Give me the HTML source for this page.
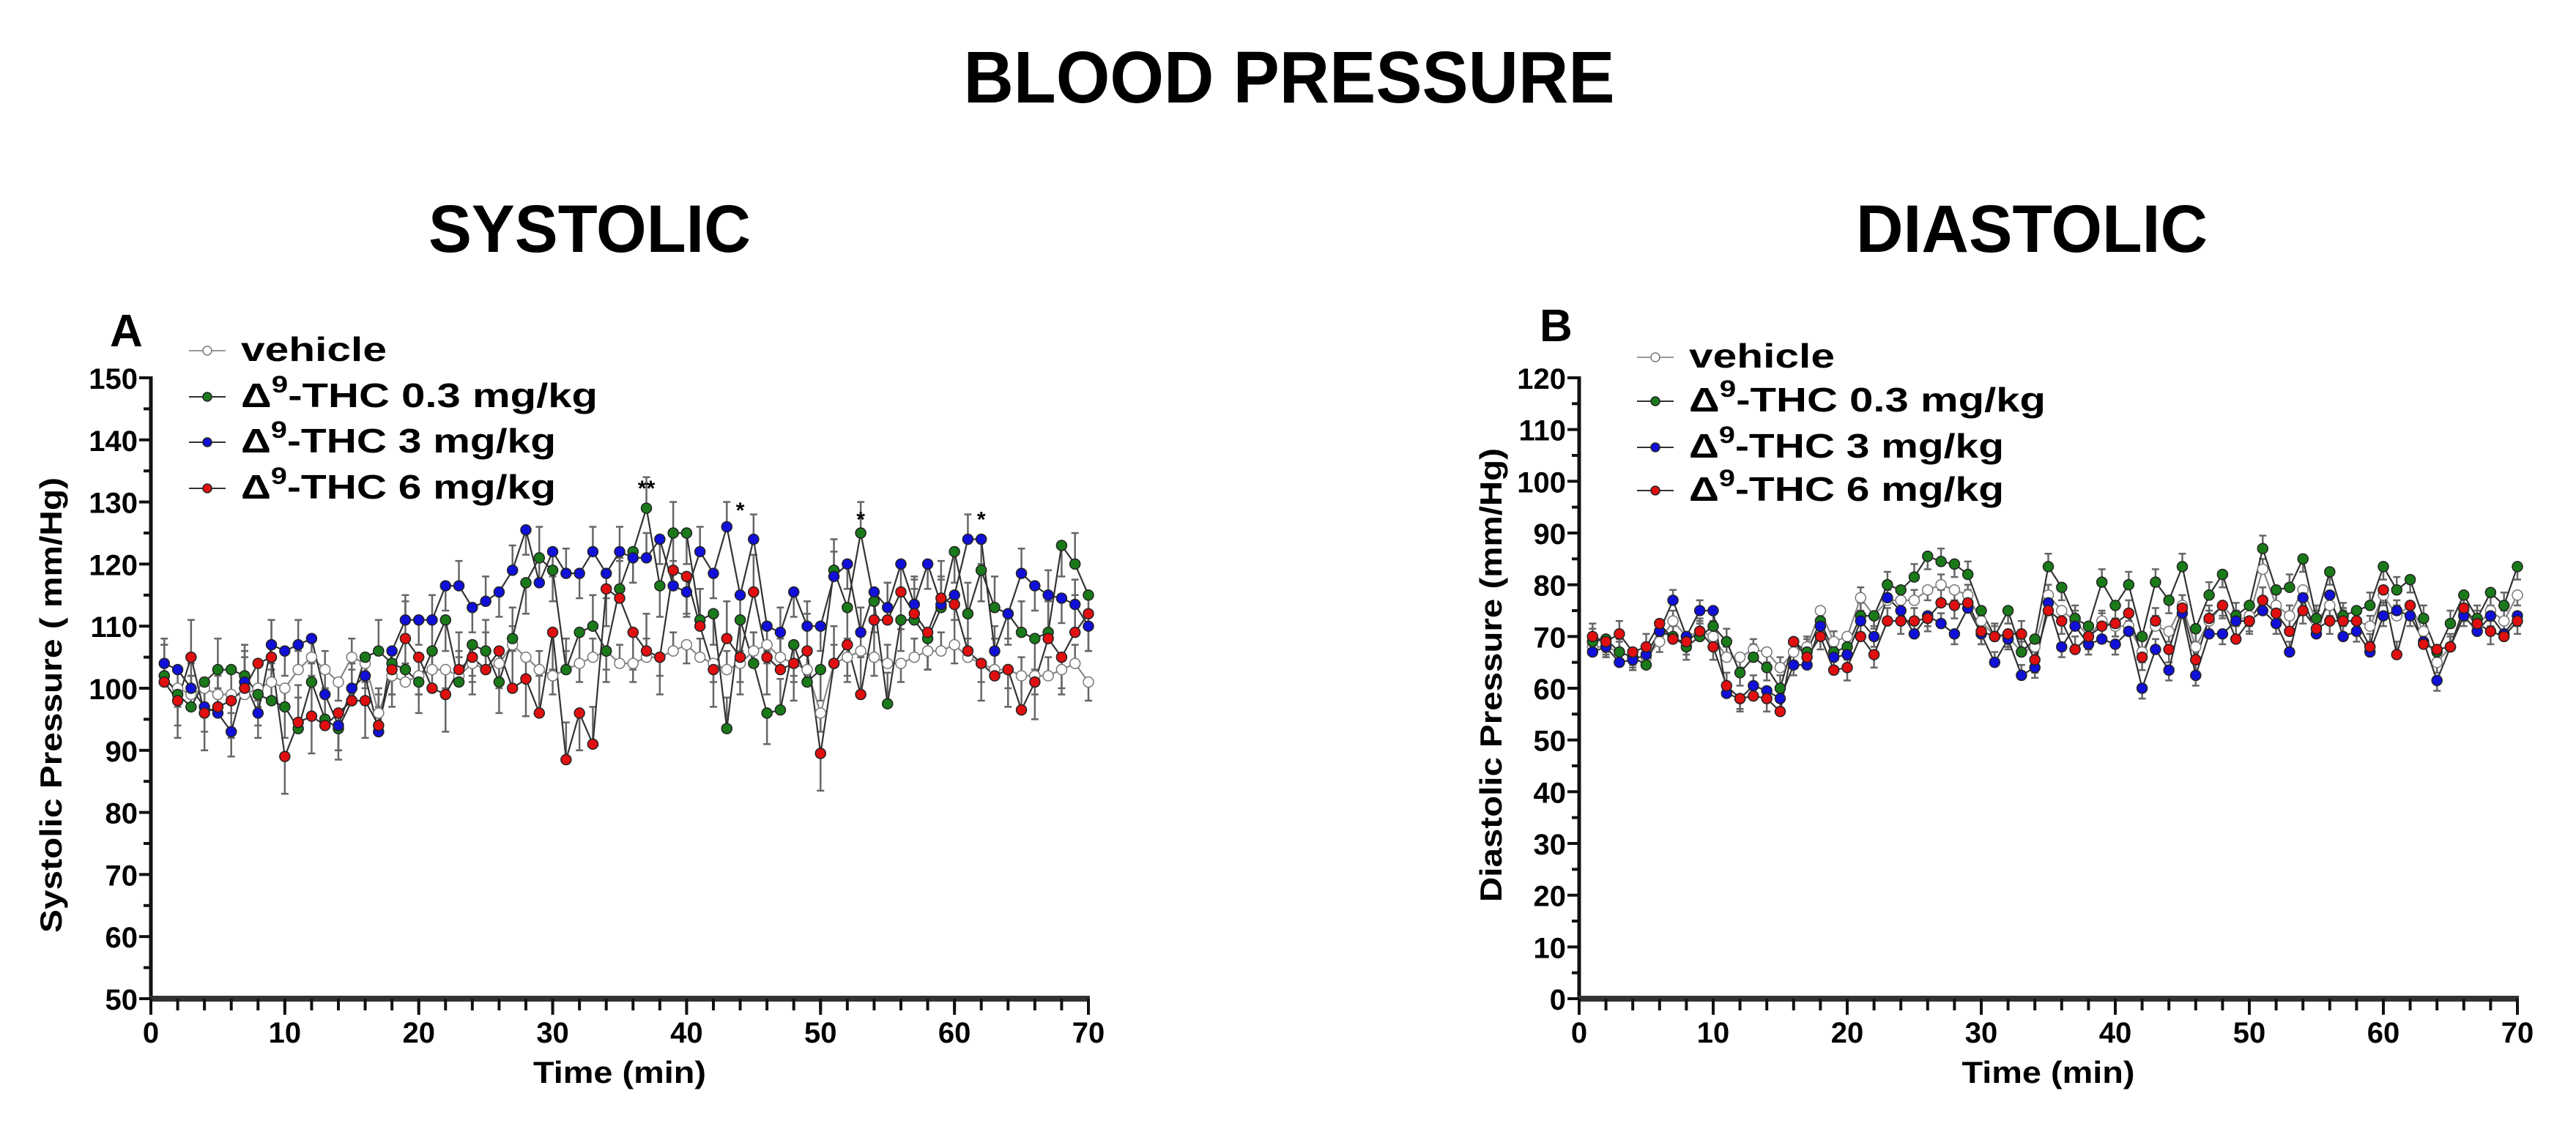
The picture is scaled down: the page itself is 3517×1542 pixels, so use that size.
<!DOCTYPE html>
<html><head><meta charset="utf-8"><title>Blood Pressure</title>
<style>
html,body{margin:0;padding:0;background:#fff;}
svg{display:block;font-family:"Liberation Sans",Arial,sans-serif;font-weight:bold;}
</style></head>
<body>
<svg id="fig" width="3517" height="1542" viewBox="0 0 3517 1542" xmlns="http://www.w3.org/2000/svg">
<text x="1760" y="140" font-size="100" text-anchor="middle" textLength="889" lengthAdjust="spacingAndGlyphs">BLOOD PRESSURE</text>
<text x="805" y="344" font-size="92" text-anchor="middle" textLength="440" lengthAdjust="spacingAndGlyphs">SYSTOLIC</text>
<text x="2774" y="344" font-size="92" text-anchor="middle" textLength="480" lengthAdjust="spacingAndGlyphs">DIASTOLIC</text>
<g id="chartA"></g>
<g id="chartB"></g>
</svg>
<script>
// ---- data ----
const minutes = [];
for (let i = 1; i <= 70; i++) minutes.push(i);
const seriesNames = ["vehicle", "Δ9-THC 0.3 mg/kg", "Δ9-THC 3 mg/kg", "Δ9-THC 6 mg/kg"];
const sysVehicle = [101,100,99,100,99,99,99,100,101,100,103,105,103,101,105,104,96,102,101,102,103,103,102,104,103,104,107,105,103,102,103,104,105,106,104,104,105,105,106,107,105,104,103,104,106,107,105,104,103,96,104,105,106,105,104,104,105,106,106,107,105,104,103,103,102,102,102,103,104,101];
const sysLow = [102,99,97,101,103,103,102,99,98,97,93.5,101,95,93.5,98,105,106,104,103,101,106,111,101,107,106,101,108,117,121,119,103,109,110,106,116,122,129,116.5,125,125,111,112,93.5,111,104,96,96.5,107,101,103,119,113,125,114,97.5,111,111,108,113,122,112,119,113,112,109,108,109,123,120,115];
const sysMid = [104,103,100,97,96,93,101,96,107,106,107,108,99,94,100,102,93,106,111,111,111,116.5,116.5,113,114,115.5,119,125.5,117,122,118.5,118.5,122,118.5,122,121,121,124,116.5,115.5,122,118.5,126,115,124,110,109,115.5,110,110,118,120,109,115.5,113,120,113.5,120,113.5,115,124,124,106,112,118.5,116.5,115,114.5,113.5,110];
const sysHigh = [101,98,105,96,97,98,100,104,105,89,94.5,95.5,94,96,98,98,94,103,108,105,100,99,103,105,103,106,100,101.5,96,109,88.5,96,91,116,114.5,109,106,105,119,118,110,103,108,105,115.5,105,103,104,106,89.5,104,107,99,111,111,115.5,112,109,114.5,113.5,106,104,102,103,96.5,101,108,105,109,112];
const sysErr = [3, 5, 4, 6];
const sysStars = [[37,"**",131],[44,"*",127.5],[53,"*",126],[62,"*",126]];
const diaVehicle = [68,68,67,66,66,69,73,70,71,70,66,66,67.5,67,64,67,68,75,69,70,77.5,74,77,77,77,79,80,79,78,73,70,70,67,68,78,75,73,70,73,72,72,67,72,71,76,68,73,76,73,74,83,76,74,79,73,76,73,73,72,78,74,76,71,65,68,75,72,75,73,78];
const diaLow = [69,69.5,67,66,64.5,71,70,68,70,72,69,63,66,64,60,69,67,73,67,68,74,74,80,79,81.5,85.5,84.5,84,82,75,70,75,67,69.5,83.5,79.5,73.5,72,80.5,76,80,70,80.5,77,83.5,71.5,78,82,74,76,87,79,79.5,85,73.5,82.5,74,75,76,83.5,79,81,73.5,67,72.5,78,73.5,78.5,76,83.5];
const diaMid = [67,68,65,65.5,66.5,71,77,70,75,75,59,58,60.5,59.5,58,64.5,64.5,72,66,66.5,73,70,77.5,75,70.5,74,72.5,70.5,75.5,70.5,65,69.5,62.5,64,76.5,68,72,68.5,69.5,68.5,71,60,67.5,63.5,74.5,62.5,70.5,70.5,73,73,75,72.5,67,77.5,70.5,78,70,71,67,74,75,74,69,61.5,68,74,71,74,70.5,74];
const diaHigh = [70,69,70.5,67,68,72.5,69.5,69,71,68,60.5,58,58.5,58,55.5,69,66,70,63.5,64,70,66.5,73,73,73,73.5,76.5,76,76.5,71,70,70.5,70.5,65.5,75,73,67.5,70,72,72.5,74.5,66,73,67.5,75.5,65.5,73.5,76,69.5,73,77,74.5,71,75,71.5,73,73,73,68,79,66.5,76,68.5,67.5,68,75.5,72.5,71,70,73];
const diaErr = [2, 2.5, 2, 2.5];
const sysYTicks = [50,60,70,80,90,100,110,120,130,140,150];
const diaYTicks = [0,10,20,30,40,50,60,70,80,90,100,110,120];
const xTicks = [0,10,20,30,40,50,60,70];

const NS = "http://www.w3.org/2000/svg";
const fills = ["#ffffff", "#1a7a1a", "#1010d8", "#e01010"];
function mk(parent, tag, attrs) {
  const e = document.createElementNS(NS, tag);
  for (const k in attrs) e.setAttribute(k, attrs[k]);
  parent.appendChild(e);
  return e;
}

function drawChart(gid, cfg) {
  const g = document.getElementById(gid);
  const X0 = cfg.x0, X1 = cfg.x1, Y0 = cfg.y0, Y1 = cfg.y1;
  const xs = v => X0 + (v - 0) / 70 * (X1 - X0);
  const ys = v => Y0 - (v - cfg.ymin) / (cfg.ymax - cfg.ymin) * (Y0 - Y1);

  // panel label
  const pl = mk(g, "text", {x: cfg.labelX, y: cfg.labelY, "font-size": 62});
  pl.textContent = cfg.label;
  
  

  // error bars
  const eg = mk(g, "g", {stroke: "#666", "stroke-width": 2.5});
  
  
  cfg.series.forEach((s, si) => {
    s.forEach((v, i) => {
      const x = xs(minutes[i]);
      const up = (i % 2 === 0);
      const ye = ys(v + (up ? cfg.err[si] : -cfg.err[si]));
      mk(eg, "line", {x1: x, x2: x, y1: ys(v), y2: ye});
      mk(eg, "line", {x1: x - 5, x2: x + 5, y1: ye, y2: ye});
    });
  });

  // lines and markers
  cfg.series.forEach((s, si) => {
    const pts = s.map((v, i) => xs(minutes[i]).toFixed(1) + "," + ys(v).toFixed(1)).join(" ");
    const pl2 = mk(g, "polyline", {points: pts, fill: "none", stroke: si === 0 ? "#888" : "#333", "stroke-width": 2.2});
    
    
  });
  cfg.series.forEach((s, si) => {
    s.forEach((v, i) => {
      const c = mk(g, "circle", {cx: xs(minutes[i]), cy: ys(v), r: 7, fill: fills[si], stroke: si === 0 ? "#777" : "#222", "stroke-width": 1.5});
      
      
    });
  });

  // stars
  (cfg.stars || []).forEach(st => {
    const t = mk(g, "text", {x: xs(st[0]), y: ys(st[2]), "font-size": 30, "text-anchor": "middle"});
    t.textContent = st[1];
    
    
  });

  // axes
  const ax = mk(g, "g", {stroke: "#111", "stroke-width": 5});
  
  
  mk(ax, "line", {x1: X0, x2: X0, y1: Y1 - 2, y2: Y0 + 2});
  mk(ax, "line", {x1: X0 - 2, x2: X1 + 2, y1: Y0, y2: Y0, stroke: "#333", "stroke-width": 8});
  // y ticks
  const yt = cfg.yticks;
  for (let k = 0; k < yt.length; k++) {
    const y = ys(yt[k]);
    mk(ax, "line", {x1: X0 - 16, x2: X0, y1: y, y2: y, "stroke-width": 4});
    const t = mk(g, "text", {x: X0 - 18, y: y + 15, "font-size": 40, "text-anchor": "end"});
    t.textContent = yt[k];
    
    
    if (k < yt.length - 1) {
      const ym = ys((yt[k] + yt[k + 1]) / 2);
      mk(ax, "line", {x1: X0 - 10, x2: X0, y1: ym, y2: ym, "stroke-width": 4});
    }
  }
  // x ticks
  for (let m = 0; m <= 70; m += 2) {
    const x = xs(m);
    mk(ax, "line", {x1: x, x2: x, y1: Y0, y2: Y0 + 16, "stroke-width": 4});
  }
  xTicks.forEach(v => {
    const x = xs(v);
    mk(ax, "line", {x1: x, x2: x, y1: Y0, y2: Y0 + 22, "stroke-width": 4});
    const t = mk(g, "text", {x: x, y: Y0 + 60, "font-size": 40, "text-anchor": "middle"});
    t.textContent = v;
    
    
  });
  const xt = mk(g, "text", {x: (X0 + X1) / 2, y: Y0 + 115, "font-size": 42, "text-anchor": "middle", textLength: 236, lengthAdjust: "spacingAndGlyphs"});
  xt.textContent = "Time (min)";
  
  
  const ytl = mk(g, "text", {x: 0, y: 0, "font-size": 42, "text-anchor": "middle", textLength: cfg.ylen, lengthAdjust: "spacingAndGlyphs", transform: "translate(" + cfg.ytx + "," + cfg.yty + ") rotate(-90)"});
  ytl.textContent = cfg.ytitle;
  
  

  // legend
  cfg.legendY.forEach((ly, si) => {
    const lg = mk(g, "g", {});
    
    
    mk(lg, "line", {x1: cfg.legendX - 25, x2: cfg.legendX + 25, y1: ly - 14, y2: ly - 14, stroke: si === 0 ? "#999" : "#333", "stroke-width": 2});
    mk(lg, "circle", {cx: cfg.legendX, cy: ly - 14, r: 6, fill: fills[si], stroke: si === 0 ? "#777" : "#222", "stroke-width": 1.5});
    const t = mk(lg, "text", {x: cfg.legendX + 46, y: ly, "font-size": 46});
    if (si === 0) {
      t.setAttribute("textLength", 199);
      t.setAttribute("lengthAdjust", "spacingAndGlyphs");
      t.textContent = seriesNames[0];
    } else {
      const w = si === 1 ? 487 : 430;
      t.setAttribute("textLength", w);
      t.setAttribute("lengthAdjust", "spacingAndGlyphs");
      const a = document.createElementNS(NS, "tspan"); a.textContent = "Δ"; t.appendChild(a);
      const b = document.createElementNS(NS, "tspan"); b.setAttribute("dy", -20); b.setAttribute("font-size", 32); b.textContent = "9"; t.appendChild(b);
      const c = document.createElementNS(NS, "tspan"); c.setAttribute("dy", 20); c.textContent = seriesNames[si].slice(2); t.appendChild(c);
    }
  });
}

drawChart("chartA", {
  x0: 206, x1: 1486, y0: 1364, y1: 516, ymin: 50, ymax: 150,
  series: [sysVehicle, sysLow, sysMid, sysHigh], err: sysErr, stars: sysStars,
  yticks: sysYTicks, label: "A", labelX: 150, labelY: 473,
  legendX: 283, legendY: [493, 556, 618, 681],
  ytitle: "Systolic Pressure ( mm/Hg)", ytx: 84, yty: 963, ylen: 622
});
drawChart("chartB", {
  x0: 2156, x1: 3437, y0: 1364, y1: 516, ymin: 0, ymax: 120,
  series: [diaVehicle, diaLow, diaMid, diaHigh], err: diaErr,
  yticks: diaYTicks, label: "B", labelX: 2102, labelY: 466,
  legendX: 2260, legendY: [502, 562, 625, 684],
  ytitle: "Diastolic Pressure (mm/Hg)", ytx: 2050, yty: 922, ylen: 620
});
</script>
</body></html>
